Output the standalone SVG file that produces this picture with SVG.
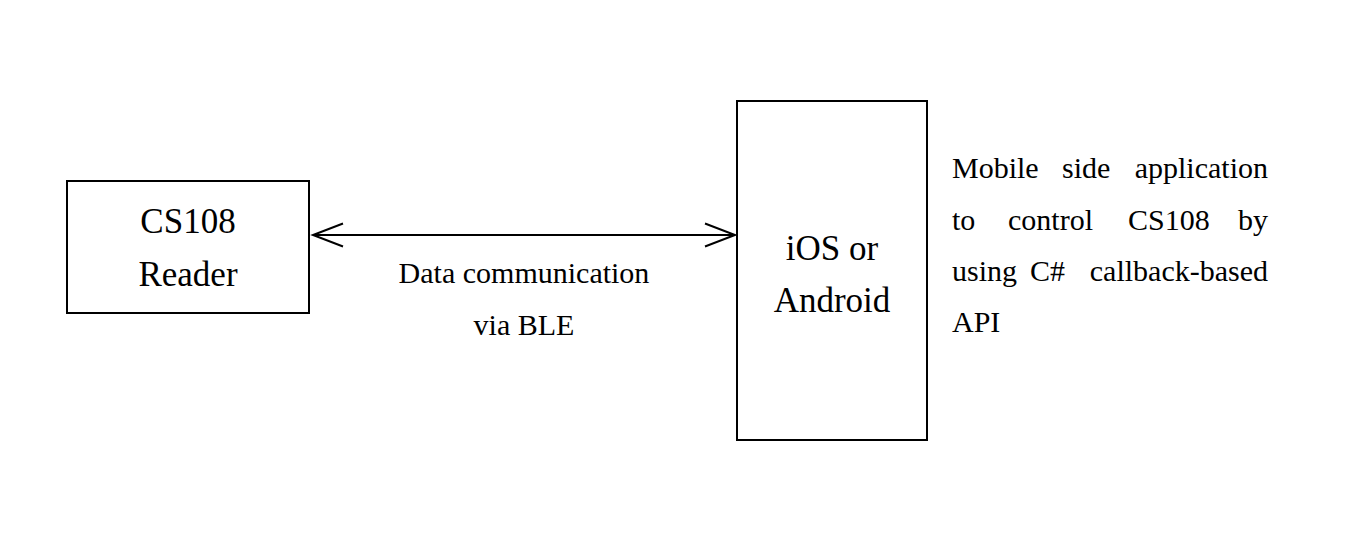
<svg xmlns="http://www.w3.org/2000/svg" width="1372" height="536" viewBox="0 0 1372 536">
<style>
.box{fill:#fff;stroke:#000;stroke-width:2}
.big{font-family:"Liberation Serif","Times New Roman",serif;font-size:35px;fill:#000;text-anchor:middle}
.sm{font-family:"Liberation Serif","Times New Roman",serif;font-size:30px;fill:#000}
.mid{text-anchor:middle}
.end{text-anchor:end}
.conn{fill:none;stroke:#000;stroke-width:2}
</style>
<rect width="1372" height="536" fill="#fff"/>
<g id="reader">
<rect class="box" x="67" y="181" width="242" height="132"/>
<text class="big" x="188" y="233">CS108</text>
<text class="big" x="188" y="286">Reader</text>
</g>
<g id="mobile">
<rect class="box" x="737" y="101" width="190" height="339"/>
<text class="big" x="832" y="260">iOS or</text>
<text class="big" x="832" y="312">Android</text>
</g>
<g id="connectors">
<line class="conn" x1="313" y1="235" x2="735" y2="235"/>
<polyline class="conn" points="343,223.5 313,235 343,246.5"/>
<polyline class="conn" points="705,223.5 735,235 705,246.5"/>
<text class="sm mid" x="524" y="283">Data communication</text>
<text class="sm mid" x="524" y="335">via BLE</text>
</g>
<g id="description">
<text class="sm" x="952" y="178">Mobile</text>
<text class="sm" x="1062" y="178">side</text>
<text class="sm end" x="1268" y="178">application</text>
<text class="sm" x="952" y="229.5">to</text>
<text class="sm" x="1008" y="229.5">control</text>
<text class="sm" x="1128" y="229.5">CS108</text>
<text class="sm end" x="1268" y="229.5">by</text>
<text class="sm" x="952" y="281">using</text>
<text class="sm" x="1030" y="281">C#</text>
<text class="sm end" x="1268" y="281">callback-based</text>
<text class="sm" x="952" y="332">API</text>
</g>
</svg>
